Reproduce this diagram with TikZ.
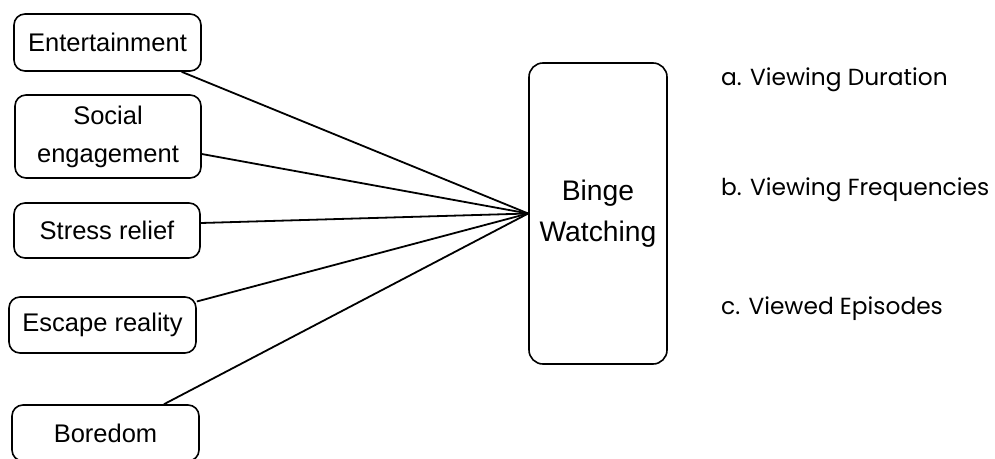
\documentclass[tikz,border=0pt]{standalone}
\usepackage{fontspec}
\setmainfont{Liberation Sans}
\newfontfamily\rightfont{Poppins}
\usetikzlibrary{calc}
\tikzset{
  factor/.style={draw=black, line width=1.6pt, rounded corners=11pt, align=center,
    inner sep=0pt, font=\fontsize{25.5}{38}\selectfont},
  link/.style={line width=1.8pt, black},
  outcome/.style={anchor=base west, inner sep=0pt, font=\rightfont\fontsize{23.3}{28}\selectfont}
}
\begin{document}
\begin{tikzpicture}[x=1pt,y=-1pt]
\useasboundingbox (0,0) rectangle (995,458);
\node[factor, minimum width=187pt, minimum height=57pt] (ent) at (107.5,42.5) {Entertainment};
\node[factor, minimum width=186pt, minimum height=83pt] (soc) at (108,136.5) {Social\\engagement};
\node[factor, minimum width=186pt, minimum height=55pt] (str) at (107,230.5) {Stress relief};
\node[factor, minimum width=187pt, minimum height=56pt] (esc) at (102.5,325) {Escape reality};
\node[factor, minimum width=187pt, minimum height=56pt] (bor) at (105.5,433) {Boredom};
\node[draw=black, line width=1.6pt, rounded corners=14pt, minimum width=138pt, minimum height=301pt,
  align=center, inner sep=0pt, font=\fontsize{28.3}{41}\selectfont] (bw) at (598,213.5) {Binge\\Watching};
\draw[link] ($(ent.south west)!0.893!(ent.south east)$) -- (bw.west);
\draw[link] ($(soc.east)+(0,17.5)$) -- (bw.west);
\draw[link] ($(str.east)+(0,-7.5)$) -- (bw.west);
\draw[link] (esc.14) -- (bw.west);
\draw[link] ($(bor.north west)!0.81!(bor.north east)$) -- (bw.west);
\node[outcome] (oa) at (721,85) {a. Viewing Duration};
\node[outcome] (ob) at (721,195) {b. Viewing Frequencies};
\node[outcome] (oc) at (721,314) {c. Viewed Episodes};
\end{tikzpicture}
\end{document}
